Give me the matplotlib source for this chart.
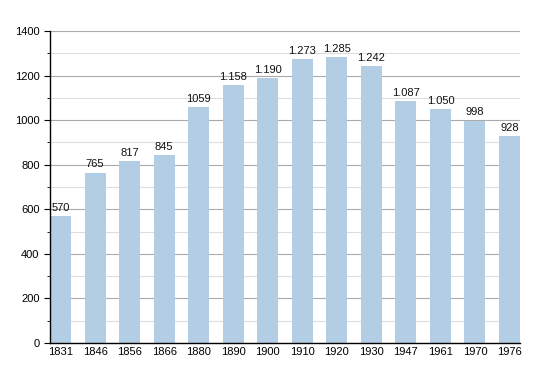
import matplotlib.pyplot as plt
from matplotlib.ticker import MultipleLocator

plt.rcParams['font.family'] = ['Liberation Sans', 'DejaVu Sans']

YEARS = ['1831', '1846', '1856', '1866', '1880', '1890', '1900',
         '1910', '1920', '1930', '1947', '1961', '1970', '1976']
POPULATION = [570, 765, 817, 845, 1059, 1158, 1190,
              1273, 1285, 1242, 1087, 1050, 998, 928]
# labels as printed on the original chart
VALUE_LABELS = ['570', '765', '817', '845', '1059', '1.158', '1.190',
                '1.273', '1.285', '1.242', '1.087', '1.050', '998', '928']

BAR_COLOR = '#b3cde4'

fig = plt.figure(figsize=(5.5, 3.73), dpi=100)
ax = fig.add_axes([0.0909, 0.0804, 0.8546, 0.8365])

x = range(len(YEARS))
ax.bar(x, POPULATION, width=0.61, color=BAR_COLOR, zorder=2)

for xi, val, lab in zip(x, POPULATION, VALUE_LABELS):
    ax.text(xi, val + 14, lab, ha='center', va='bottom', fontsize=8,
            color='#111111', zorder=3)

ax.set_xlim(-0.305, len(YEARS) - 1 + 0.305)
ax.set_ylim(0, 1400)
ax.set_xticks(list(x))
ax.set_xticklabels(YEARS)
ax.yaxis.set_major_locator(MultipleLocator(200))
ax.yaxis.set_minor_locator(MultipleLocator(100))

ax.grid(axis='y', which='major', color='#aaaaaa', linewidth=0.8, zorder=0)
ax.grid(axis='y', which='minor', color='#dddddd', linewidth=0.8, zorder=0)

for side in ['top', 'right']:
    ax.spines[side].set_visible(False)
ax.spines['left'].set_linewidth(1.0)
ax.spines['bottom'].set_linewidth(1.0)

ax.tick_params(axis='x', length=0, labelsize=8, pad=3)
ax.tick_params(axis='y', which='major', length=4, labelsize=8)
ax.tick_params(axis='y', which='minor', length=2)

fig.savefig('out.png', dpi=100)
